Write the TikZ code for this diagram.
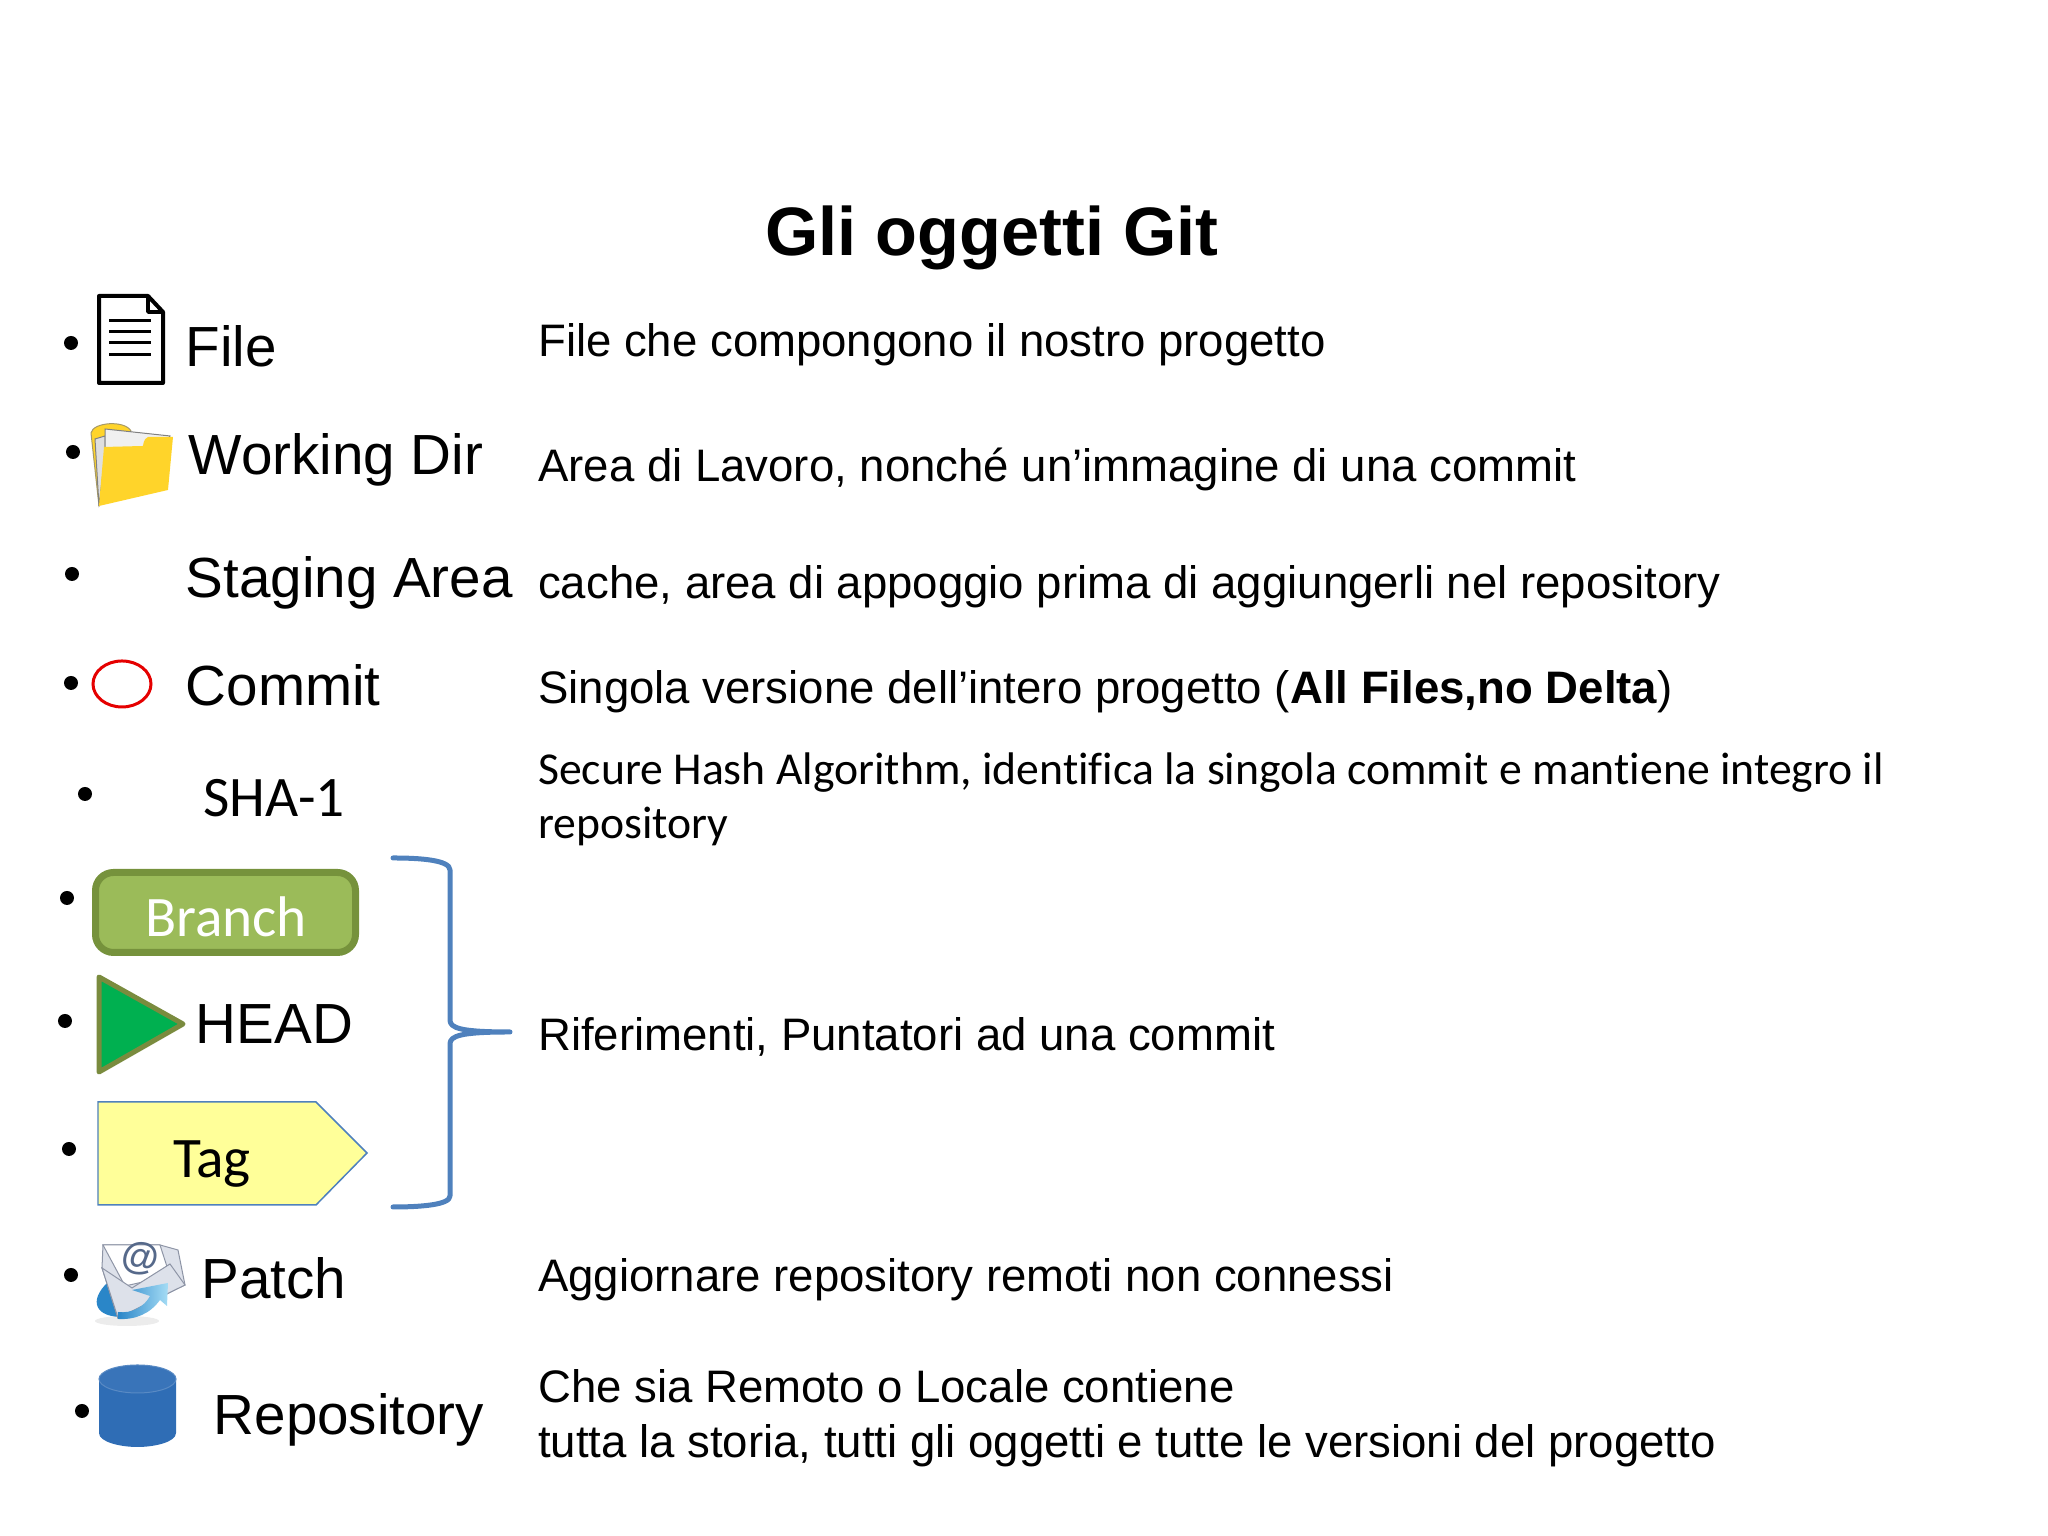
\documentclass[tikz,border=0pt]{standalone}
\usepackage{fontspec}
\setmainfont{Liberation Sans}
\newfontfamily\calibri[Ligatures=NoCommon]{Carlito}
\definecolor{bracecol}{HTML}{4F81BD}
\definecolor{branchfill}{HTML}{9BBB59}
\definecolor{branchline}{HTML}{76923C}
\definecolor{headfill}{HTML}{00B050}
\definecolor{headline}{HTML}{7A8B3E}
\definecolor{tagfill}{HTML}{FFFF99}
\definecolor{foldercol}{HTML}{FFD42A}
\definecolor{repocol}{HTML}{2F6DB5}
\definecolor{mailcol}{HTML}{DDE1EA}
\definecolor{mailedge}{HTML}{8E95A6}
\definecolor{atcol}{HTML}{56698A}
\definecolor{arrowdark}{HTML}{2A86C8}
\definecolor{arrowlight}{HTML}{A5DCF5}
\tikzset{
  itemdot/.style={circle,fill=black,inner sep=0pt,minimum size=0.14cm},
  biglabel/.style={anchor=base west,inner sep=0pt,font=\fontsize{16.1}{19}\selectfont},
  desclabel/.style={anchor=base west,inner sep=0pt,font=\fontsize{12.96}{15}\selectfont},
  calibrilabel/.style={inner sep=0pt,font=\calibri\fontsize{16.3}{19}\selectfont},
  calibridesc/.style={anchor=base west,inner sep=0pt,font=\calibri\fontsize{13}{15}\selectfont},
}
\begin{document}
\begin{tikzpicture}
\useasboundingbox (0,0) rectangle (20.48,15.36);

\node[anchor=base,inner sep=0pt,font=\fontsize{19.5}{23}\selectfont\bfseries] (title) at (9.92,12.80) {Gli oggetti Git};

% bullets
\node[itemdot] (dotfile) at (0.71,11.93) {};
\node[itemdot] (dotwork) at (0.73,10.84) {};
\node[itemdot] (dotstage) at (0.72,9.62) {};
\node[itemdot] (dotcommit) at (0.71,8.53) {};
\node[itemdot] (dotsha) at (0.85,7.42) {};
\node[itemdot] (dotbranch) at (0.67,6.38) {};
\node[itemdot] (dothead) at (0.65,5.15) {};
\node[itemdot] (dottag) at (0.69,3.87) {};
\node[itemdot] (dotpatch) at (0.71,2.61) {};
\node[itemdot] (dotrepo) at (0.82,1.25) {};

% file icon
\draw[line width=0.04cm,line join=round,fill=white] (0.99,12.40) -- (1.48,12.40) -- (1.63,12.24) -- (1.63,11.53) -- (0.99,11.53) -- cycle;
\draw[line width=0.035cm,line join=round] (1.48,12.40) -- (1.48,12.24) -- (1.63,12.24);
\draw[line width=0.03cm] (1.09,12.15) -- (1.51,12.15);
\draw[line width=0.03cm] (1.09,12.04) -- (1.51,12.04);
\draw[line width=0.03cm] (1.09,11.93) -- (1.51,11.93);
\draw[line width=0.03cm] (1.09,11.81) -- (1.51,11.81);

% folder icon
\draw[fill=foldercol,draw=gray!70!foldercol,line width=0.01cm] (0.99,10.30) -- (0.91,11.03) .. controls (0.93,11.14) and (1.25,11.16) .. (1.31,11.05) -- (1.31,10.8) -- cycle;
\draw[fill=gray!25,draw=gray,line width=0.01cm] (0.99,10.30) -- (0.95,10.97) -- (1.05,11.00) -- (1.05,10.8) -- cycle;
\draw[fill=gray!12,draw=gray,line width=0.01cm] (1.05,10.80) -- (1.05,11.07) -- (1.70,11.00) -- (1.60,10.80) -- cycle;
\fill[foldercol] (0.99,10.30) -- (1.04,10.89) -- (1.43,10.90) .. controls (1.44,10.97) and (1.46,10.98) .. (1.48,10.99) -- (1.73,10.99) -- (1.68,10.46) -- cycle;

% commit
\draw[red!90!black,line width=0.03cm] (1.22,8.52) ellipse (0.29 and 0.23);

% branch, head, tag
\node[draw=branchline,fill=branchfill,line width=0.07cm,rounded corners=0.18cm,minimum width=2.60cm,minimum height=0.80cm,inner sep=0pt] (branchbox) at (2.255,6.235) {};
\node[calibrilabel,anchor=base,text=white] (branchtext) at (2.26,5.995) {Branch};
\draw[fill=headfill,draw=headline,line width=0.05cm,line join=round] (0.99,5.59) -- (1.83,5.12) -- (0.99,4.64) -- cycle;
\draw[fill=tagfill,draw=bracecol,line width=0.015cm] (0.98,4.34) -- (3.16,4.34) -- (3.67,3.83) -- (3.16,3.31) -- (0.98,3.31) -- cycle;
\node[calibrilabel,anchor=base] (tagtext) at (2.12,3.585) {Tag};

% patch icon
\fill[gray!15] (1.27,2.15) ellipse (0.32 and 0.05);
\fill[arrowdark] (1.08,2.54) .. controls (0.88,2.35) and (0.95,2.18) .. (1.25,2.19) -- (1.30,2.30) -- cycle;
\draw[fill=mailcol,draw=mailedge,line width=0.01cm] (1.03,2.91) -- (1.60,2.91) -- (1.78,2.86) -- (1.85,2.51) -- (1.18,2.18) -- (1.02,2.68) -- cycle;
\draw[fill=white,draw=mailedge,line width=0.01cm] (1.03,2.91) -- (1.60,2.91) -- (1.70,2.60) -- (1.25,2.50) -- cycle;
\draw[fill=mailcol,draw=mailedge,line width=0.01cm] (1.02,2.68) -- (1.32,2.48) -- (1.70,2.72) -- (1.85,2.51) -- (1.18,2.18) -- cycle;
\shade[left color=arrowdark,right color=arrowlight] (1.18,2.24) .. controls (1.32,2.22) and (1.45,2.30) .. (1.50,2.40) -- (1.32,2.46) -- (1.68,2.53) -- (1.67,2.30) -- (1.60,2.36) .. controls (1.50,2.22) and (1.35,2.16) .. (1.18,2.17) -- cycle;
\node[inner sep=0pt,rotate=-8,font=\fontsize{10.8}{12}\selectfont\bfseries,text=atcol] (patchat) at (1.40,2.77) {@};

% repository icon
\fill[repocol] (0.99,1.57) -- (0.99,1.03) .. controls (0.99,0.94) and (1.20,0.89) .. (1.375,0.89) .. controls (1.55,0.89) and (1.76,0.94) .. (1.76,1.03) -- (1.76,1.57) -- cycle;
\draw[fill=repocol!95!white,draw=repocol!80!white,line width=0.01cm] (1.375,1.57) ellipse (0.385 and 0.14);

% brace
\coordinate (bracetop) at (3.93,6.78);
\coordinate (braceend) at (3.93,3.29);
\coordinate (bracetip) at (5.10,5.04);
\draw[bracecol,line width=0.05cm,line join=round,line cap=round] (bracetop) .. controls (4.20,6.78) and (4.50,6.76) .. (4.50,6.66) -- (4.50,5.16) .. controls (4.50,5.08) and (4.60,5.04) .. (bracetip) .. controls (4.60,5.04) and (4.50,5.00) .. (4.50,4.92) -- (4.50,3.40) .. controls (4.50,3.31) and (4.20,3.29) .. (braceend);

% left labels
\node[biglabel] (filelabel) at (1.85,11.69) {File};
\node[biglabel] (worklabel) at (1.88,10.61) {Working Dir};
\node[biglabel] (stagelabel) at (1.85,9.38) {Staging Area};
\node[biglabel] (commitlabel) at (1.85,8.30) {Commit};
\node[calibrilabel,anchor=base west] (shalabel) at (2.03,7.19) {SHA-1};
\node[biglabel] (headlabel) at (1.95,4.92) {HEAD};
\node[biglabel] (patchlabel) at (2.01,2.375) {Patch};
\node[biglabel] (repolabel) at (2.13,1.01) {Repository};

% descriptions
\node[desclabel] (filedesc) at (5.375,11.795) {File che compongono il nostro progetto};
\node[desclabel] (workdesc) at (5.375,10.545) {Area di Lavoro, nonché un’immagine di una commit};
\node[desclabel] (stagedesc) at (5.375,9.375) {cache, area di appoggio prima di aggiungerli nel repository};
\node[desclabel] (commitdesc) at (5.375,8.325) {Singola versione dell’intero progetto (\textbf{All Files,no Delta})};
\node[calibridesc] (shadescone) at (5.375,7.51) {Secure Hash Algorithm, identifica la singola commit e mantiene integro il};
\node[calibridesc] (shadesctwo) at (5.375,6.97) {repository};
\node[desclabel] (refdesc) at (5.375,4.855) {Riferimenti, Puntatori ad una commit};
\node[desclabel] (patchdesc) at (5.375,2.445) {Aggiornare repository remoti non connessi};
\node[desclabel] (repodescone) at (5.375,1.33) {Che sia Remoto o Locale contiene};
\node[desclabel] (repodesctwo) at (5.375,0.78) {tutta la storia, tutti gli oggetti e tutte le versioni del progetto};
\end{tikzpicture}
\end{document}
